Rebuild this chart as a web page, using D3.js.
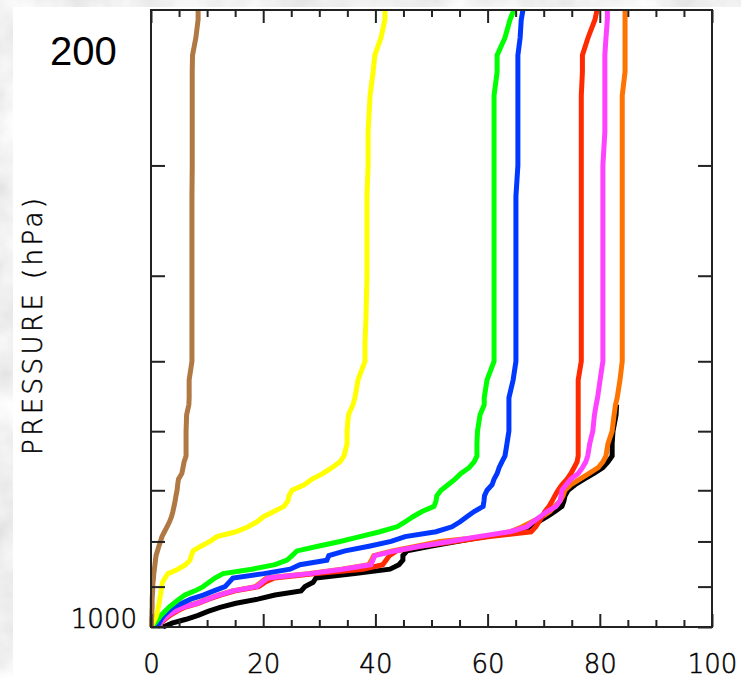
<!doctype html>
<html>
<head>
<meta charset="utf-8">
<title>Pressure profiles</title>
<script src="https://d3js.org/d3.v7.min.js"></script>
<style type="text/css">
	body { margin: 0; background: #fff; }
	.lbl {
		font-family: "DejaVu Sans ExtraLight", "DejaVu Sans", sans-serif;
		font-weight: 200;
		font-size: 26px;
		fill: #000;
		stroke: #000;
		stroke-width: 0.5;
	}
	.big {
		font-family: "Liberation Sans", Arial, sans-serif;
		font-size: 40px;
		fill: #000;
	}
	.axis path, .axis line { stroke: #222; stroke-width: 2; }
	.prof { fill: none; stroke-width: 5; stroke-linejoin: miter; stroke-miterlimit: 2; }
</style>
</head>
<body>
<script>
	var w = 741;
	var h = 678;

	// pressure levels (hPa), shared by every profile
	var pressure = [1000, 990, 980, 970, 960, 950, 940, 930, 920, 910, 900, 890, 880, 870, 860, 850, 840, 830, 820, 810, 800,
		790, 780, 770, 760, 750, 740, 730, 720, 710, 700, 690, 680, 670, 660, 650, 640,
		620, 600, 575, 560, 550, 525, 500, 475, 450, 425, 400, 375, 350, 325, 300, 275, 250, 235, 225, 215, 205, 200];

	var brown = [0.1, 0.1, 0.1, 0.15, 0.15, 0.2, 0.2, 0.2, 0.25, 0.3, 0.3, 0.35, 0.45, 0.5, 0.6, 0.7, 0.8, 0.9, 1.15, 1.4, 1.7,
		1.95, 2.4, 2.85, 3.3, 3.65, 3.9, 4.1, 4.3, 4.45, 4.65, 4.75, 4.9, 5.5, 5.7, 5.9, 6.25,
		6.25, 6.25, 6.35, 6.75, 6.8, 6.8, 7.3, 7.3, 7.3, 7.3, 7.3, 7.3, 7.3, 7.3, 7.35, 7.35, 7.35, 7.35, 7.4, 8.0, 8.4, 8.4];

	var yellow = [0, 0.35, 0.7, 1.0, 1.15, 1.3, 1.45, 1.55, 1.7, 1.8, 1.9, 2.05, 2.5, 3.0, 4.8, 6.15, 6.95, 7.2, 7.5, 8.9, 10.5,
		11.75, 15.15, 17.3, 18.9, 20.05, 21.9, 23.7, 24.4, 24.6, 25.15, 27.3, 28.7, 30.65, 32.25, 33.7, 34.4,
		34.95, 34.95, 35.2, 36.0, 36.35, 36.9, 38.15, 38.15, 38.3, 38.4, 38.5, 38.5, 38.5, 38.5, 38.7, 38.7, 39.05, 39.6, 39.9, 41.0, 41.7, 41.7];

	var green = [0.2, 0.7, 1.25, 1.8, 2.5, 3.2, 4.1, 5.0, 6.05, 7.85, 9.3, 10.35, 11.4, 12.85, 18.0, 22.1, 24.25, 25.15, 26.0, 29.75, 33.7,
		37.25, 40.8, 43.85, 45.3, 46.7, 48.3, 50.45, 50.8, 50.95, 51.7, 52.95, 54.2, 55.25, 56.7, 57.6, 58.1,
		58.1, 58.2, 58.65, 59.4, 59.4, 59.9, 61.15, 61.15, 61.15, 61.15, 61.15, 61.15, 61.15, 61.15, 61.15, 61.15, 61.15, 61.7, 61.7, 63.1, 64.0, 64.7];

	var blue = [1.05, 1.45, 1.8, 2.3, 3.05, 3.9, 5.5, 7.1, 9.3, 11.2, 13.2, 13.9, 14.6, 20.1, 24.8, 26.55, 31.35, 31.7, 34.6, 38.85, 42.8,
		45.3, 50.8, 53.65, 55.1, 56.3, 57.6, 59.2, 59.35, 59.45, 59.9, 60.8, 61.15, 61.7, 62.05, 62.55, 63.1,
		63.45, 63.8, 63.8, 63.8, 63.8, 64.55, 65.05, 65.05, 65.05, 65.05, 65.05, 65.05, 65.05, 65.05, 65.4, 65.4, 65.4, 65.4, 65.4, 65.8, 66.0, 66.3];

	var red = [1.2, 1.7, 2.5, 3.4, 4.6, 6.0, 8.4, 10.3, 12.4, 15.0, 19.2, 20.3, 22.0, 29.5, 37.8, 41.3, 41.9, 42.5, 43.8, 48.0, 54.2,
		60.4, 67.75, 68.6, 69.15, 69.7, 70.2, 70.95, 71.5, 72.0, 72.55, 73.25, 74.15, 74.85, 75.4, 75.95, 76.15,
		76.15, 76.15, 76.15, 76.15, 76.15, 76.15, 76.7, 76.7, 76.7, 76.7, 76.7, 76.7, 76.7, 76.7, 76.7, 76.7, 76.7, 76.9, 76.9, 77.9, 79.15, 79.5];

	var magenta = [1.05, 1.6, 2.3, 3.05, 4.3, 5.7, 8.2, 10.15, 12.1, 14.6, 18.9, 19.8, 20.85, 28.35, 34.2, 39.2, 39.55, 39.9, 43.5, 47.95, 53.3,
		58.3, 64.0, 67.0, 68.1, 69.35, 70.6, 72.2, 72.9, 73.1, 73.25, 74.0, 74.85, 76.15, 76.9, 77.5, 77.85,
		78.2, 78.75, 79.05, 79.35, 79.6, 80.05, 80.55, 80.55, 80.55, 80.55, 80.55, 80.55, 80.55, 80.55, 80.55, 80.9, 80.9, 80.9, 80.9, 81.1, 81.35, 81.35];

	var orange = [1.1, 1.6, 2.3, 3.0, 4.2, 5.6, 8.0, 10.0, 12.0, 14.5, 18.6, 19.6, 20.6, 28.0, 34.0, 38.8, 39.3, 39.7, 43.0, 47.3, 51.5,
		59.55, 64.0, 66.15, 67.9, 69.7, 71.1, 72.0, 72.9, 73.45, 73.8, 74.85, 76.45, 78.1, 79.7, 80.55, 81.1,
		81.45, 82.2, 82.55, 82.8, 83.1, 83.6, 84.0, 84.0, 84.0, 84.0, 84.0, 84.0, 84.0, 84.0, 84.0, 84.0, 84.0, 84.5, 84.5, 84.5, 84.5, 84.5];

	// black stops near 560 hPa
	var black = [2.15, 3.75, 6.25, 8.4, 10.15, 12.3, 15.15, 19.05, 22.1, 26.75, 27.45, 28.9, 29.4, 36.35, 42.6, 44.2, 44.9, 44.9, 45.65, 49.75, 54.5,
		59.5, 65.0, 67.8, 69.0, 70.6, 72.0, 73.25, 73.6, 73.8, 74.35, 75.6, 77.2, 78.95, 80.55, 81.45, 82.2,
		82.2, 82.35, 82.9, 83.0, null, null, null, null, null, null, null, null, null, null, null, null, null, null, null, null, null, null];

	// drawn in this order, last on top
	var profiles = [
		{name: "black", color: "#000000", values: black},
		{name: "orange", color: "#ff7300", values: orange},
		{name: "red", color: "#ff2a00", values: red},
		{name: "magenta", color: "#ff42ff", values: magenta},
		{name: "blue", color: "#0038ff", values: blue},
		{name: "green", color: "#00ff00", values: green},
		{name: "yellow", color: "#ffff00", values: yellow},
		{name: "brown", color: "#b07843", values: brown}
	];

	var xTicksMajor = [0, 20, 40, 60, 80, 100];
	var xTicksMinor = d3.range(0, 101, 5).filter(function(v){ return v % 20 != 0; });
	var pTicks = [1000, 900, 800, 700, 600, 500, 400, 300];

	var svg = d3.select("body")
				.append("svg")
				.attr("width", w)
				.attr("height", h);

	// cloudy grey border
	var defs = svg.append("defs");
	var f = defs.append("filter").attr("id", "clouds")
				.attr("x", 0).attr("y", 0).attr("width", "100%").attr("height", "100%");
	f.append("feTurbulence").attr("type", "fractalNoise")
		.attr("baseFrequency", "0.018").attr("numOctaves", 4).attr("seed", 7);
	f.append("feColorMatrix").attr("type", "matrix")
		.attr("values", "0.45 0 0 0 0.64  0.45 0 0 0 0.64  0.45 0 0 0 0.64  0 0 0 0 1");

	svg.append("rect").attr("width", w).attr("height", h).attr("filter", "url(#clouds)");
	svg.append("rect").attr("x", 13).attr("y", 7).attr("width", w - 13).attr("height", h - 7).attr("fill", "#fff");

	var pLeft = 151, pRight = 712, pTop = 10, pBottom = 627;

	var x = d3.scaleLinear().domain([0, 100]).range([pLeft, pRight]);
	var y = d3.scaleLog().domain([1000, 200]).range([pBottom, pTop]);

	// profiles
	var line = d3.line()
				.defined(function(d){ return d[0] != null; })
				.x(function(d){ return x(d[0]); })
				.y(function(d){ return y(d[1]); });

	svg.append("g")
		.selectAll("path")
		.data(profiles)
		.enter()
		.append("path")
		.attr("class", "prof")
		.attr("stroke", function(d){ return d.color; })
		.attr("d", function(d){
			return line(d.values.map(function(v, i){ return [v, pressure[i]]; }));
		});

	// axes, ticks pointing inward
	svg.append("g").attr("class", "axis")
		.attr("transform", "translate(0," + pBottom + ")")
		.call(d3.axisBottom(x).tickValues(xTicksMajor).tickSizeInner(-13).tickSizeOuter(0).tickPadding(28))
		.call(function(g){ g.selectAll("text").attr("class", "lbl").attr("font-size", null).attr("font-family", null).attr("fill", null); });

	svg.append("g").attr("class", "axis")
		.attr("transform", "translate(0," + pBottom + ")")
		.call(d3.axisBottom(x).tickValues(xTicksMinor).tickSizeInner(-7).tickSizeOuter(0).tickFormat(""));

	svg.append("g").attr("class", "axis")
		.attr("transform", "translate(0," + pTop + ")")
		.call(d3.axisTop(x).tickValues(xTicksMajor).tickSizeInner(-13).tickSizeOuter(0).tickFormat(""));

	svg.append("g").attr("class", "axis")
		.attr("transform", "translate(0," + pTop + ")")
		.call(d3.axisTop(x).tickValues(xTicksMinor).tickSizeInner(-7).tickSizeOuter(0).tickFormat(""));

	svg.append("g").attr("class", "axis")
		.attr("transform", "translate(" + pLeft + ",0)")
		.call(d3.axisLeft(y).tickValues(pTicks).tickSizeInner(-14).tickSizeOuter(0).tickPadding(14)
			.tickFormat(function(d){ return d == 1000 ? "1000" : ""; }))
		.call(function(g){
			g.selectAll("text").attr("class", "lbl").attr("font-size", null).attr("font-family", null).attr("fill", null).attr("dy", "0em");
		});

	svg.append("g").attr("class", "axis")
		.attr("transform", "translate(" + pRight + ",0)")
		.call(d3.axisRight(y).tickValues(pTicks).tickSizeInner(-14).tickSizeOuter(0).tickFormat(""));

	svg.selectAll(".axis .domain").remove();
	svg.append("rect")
		.attr("x", pLeft).attr("y", pTop)
		.attr("width", pRight - pLeft).attr("height", pBottom - pTop)
		.attr("fill", "none").attr("stroke", "#222").attr("stroke-width", 2);

	// titles
	svg.append("text")
		.attr("class", "lbl")
		.attr("transform", "translate(42," + ((pTop + pBottom) / 2 + 8) + ") rotate(-90)")
		.attr("text-anchor", "middle")
		.attr("textLength", 257)
		.attr("lengthAdjust", "spacing")
		.text("PRESSURE (hPa)");

	svg.append("text")
		.attr("class", "big")
		.attr("x", 50)
		.attr("y", 65)
		.text("200");
</script>
</body>
</html>
